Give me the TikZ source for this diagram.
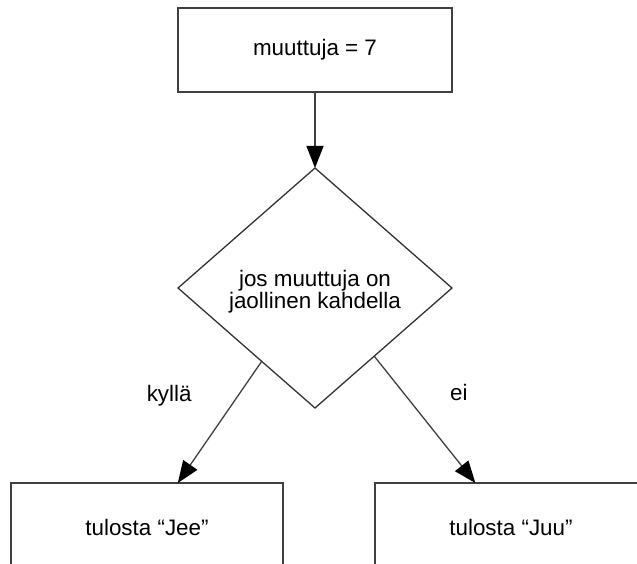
\documentclass[tikz,border=0pt]{standalone}
\usepackage{fontspec}
\setmainfont{Liberation Sans}
\usetikzlibrary{
        arrows.meta,
        positioning,
        shapes.geometric
    }
\tikzset{>={Triangle[length=11pt,width=8.5pt,color=black]},auto,node distance=38pt}
\tikzset{
    laatikko/.style={draw=black!75,line width=0.75pt,rectangle,minimum width=137pt,minimum height=42pt,inner sep=0pt,outer sep=0pt},
    ehto/.style={draw=black!80,line width=0.65pt,diamond,minimum width=137pt,minimum height=120pt,inner sep=0pt,outer sep=0pt,align=center},
    nuoli/.style={->,draw=black!75,line width=0.65pt},
    selite/.style={inner sep=0pt}
}

\begin{document}
\begin{tikzpicture}[x=0.5pt,y=-0.5pt,font=\fontsize{11.2pt}{11pt}\selectfont]
                    \clip (0,0) rectangle (637,563);
                    \node[laatikko] (alku) at (315,50) {muuttuja = 7};
                    \node[ehto] (ehto)  [below=of alku]     {\rule{0pt}{11.4pt}jos muuttuja on\\jaollinen kahdella};
                    \node[laatikko,minimum width=136pt,minimum height=44pt] (jee)  [below=37.5pt of ehto,xshift=-84pt]     {tulosta “Jee”};
                    \node[laatikko,minimum width=136pt,minimum height=44pt] (juu)  [below=37.5pt of ehto,xshift=98pt]     {tulosta “Juu”};
                    \draw[nuoli] (alku) -- (ehto);
                    \draw[nuoli] (ehto.234) -- node[selite,pos=0.28,left=23pt] {kyllä} (jee.55);
                    \draw[nuoli] (ehto.311) -- node[selite,pos=0.29,right=23pt] {ei} (juu.129);
                \end{tikzpicture}
\end{document}
